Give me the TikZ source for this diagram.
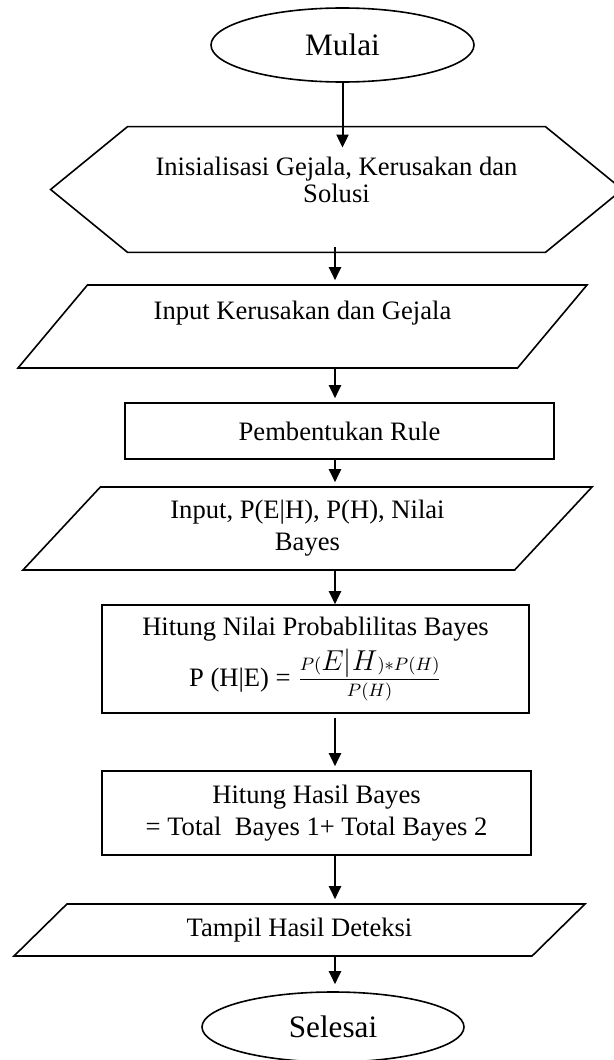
\documentclass[tikz,border=0pt]{standalone}
\usepackage{amsmath}
\usepackage{fontspec}
\setmainfont{Liberation Serif}
\usepackage{tikz}
\usetikzlibrary{positioning}
\usetikzlibrary{shapes.geometric,arrows.meta}
\tikzstyle{terminal}=[ellipse,draw=black,line width=0.8pt,inner sep=0,font=\fontsize{15.6}{18}\selectfont]
\tikzstyle{process}=[rectangle,draw=black,line width=0.8pt,inner sep=0,align=center,font=\fontsize{13.3}{16}\selectfont]
\tikzstyle{io}=[trapezium,draw=black,line width=0.8pt,inner sep=0,align=center,trapezium stretches body,trapezium left angle=36,trapezium right angle=144,font=\fontsize{13.3}{16}\selectfont]
\tikzstyle{flow}=[line width=1pt,-{Triangle[width=6pt,length=6.5pt]},shorten >=2pt]

\begin{document}
\begin{tikzpicture}[x=0.5pt,y=-0.5pt]
    \useasboundingbox (0,0) rectangle (614,1060);
    \coordinate (spine) at (335,0);

    \node[terminal, minimum width=131.5pt, minimum height=37pt] (mulai) at (342.5,45) {Mulai};

    % hexagon drawn round a plain box
    \node[align=center, inner sep=0, minimum width=208.5pt, minimum height=62.5pt, font=\fontsize{13.3}{13.5}\selectfont] (init) at (336.5,189.5) {Inisialisasi Gejala, Kerusakan dan\\Solusi\\[-4pt]\mbox{}};
    \draw[line width=0.8pt] (init.north west) -- (init.north east) -- ([xshift=38.5pt]init.east) -- (init.south east) -- (init.south west) -- ([xshift=-38.5pt]init.west) -- cycle;

    \node[io, minimum width=284.5pt, minimum height=41.5pt] (inkerus) at (302.5,326.5) {Input Kerusakan dan Gejala\\\mbox{}};

    \node[process, minimum width=214.5pt, minimum height=28pt] (rule) at (339.5,431) {Pembentukan Rule};

    \node[io, minimum width=284.5pt, minimum height=41.5pt] (inbayes) at (307.5,528.5) {Input, P(E|H), P(H), Nilai\\Bayes};

    \node[process, minimum width=213.5pt, minimum height=54pt] (hitung) at (315.5,659) {Hitung Nilai Probablilitas Bayes\\[3pt]P (H|E) = $\frac{P({\textstyle E|H})*P(H)}{P(H)}$};

    \node[process, minimum width=214.5pt, minimum height=42pt] (hasil) at (316.5,813) {Hitung Hasil Bayes\\= Total\ \ Bayes 1+ Total Bayes 2};

    \node[io, trapezium left angle=24.5, trapezium right angle=155.5, minimum width=285.5pt, minimum height=26pt] (tampil) at (299.5,930) {Tampil Hasil Deteksi};

    \node[terminal, minimum width=131pt, minimum height=35pt] (selesai) at (333,1027) {Selesai};

    \draw[flow, shorten >=-10.5pt] (mulai.south) -- (mulai.south |- init.north);
    \draw[flow, shorten <=-2.5pt] (spine |- init.south) -- (spine |- inkerus.north);
    \draw[flow, shorten <=-1pt] (spine |- inkerus.south) -- (spine |- rule.north);
    \draw[flow] (spine |- rule.south) -- (spine |- inbayes.north);
    \draw[flow, shorten >=0pt] (spine |- inbayes.south) -- (spine |- hitung.north);
    \draw[flow, shorten <=2pt] (spine |- hitung.south) -- (spine |- hasil.north);
    \draw[flow] (spine |- hasil.south) -- (spine |- tampil.north);
    \draw[flow, shorten >=3.5pt] (spine |- tampil.south) -- (spine |- selesai.north);
\end{tikzpicture}
\end{document}
